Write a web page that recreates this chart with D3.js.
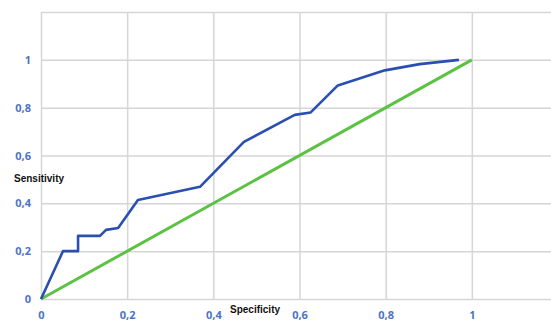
<!DOCTYPE html>
<html>
<head>
<meta charset="utf-8">
<script src="https://cdn.jsdelivr.net/npm/d3@7"></script>
<style>
  html, body { margin: 0; padding: 0; background: #fff; }
  svg { display: block; }
</style>
</head>
<body>
<div id="chart"></div>
<script>
// ROC curve: sensitivity against specificity, with the chance diagonal
const specificity = [0, 0.051, 0.086, 0.086, 0.137, 0.151, 0.179, 0.225, 0.369, 0.471, 0.589, 0.626, 0.689, 0.798, 0.879, 0.97];
const sensitivity = [0, 0.2, 0.2, 0.264, 0.264, 0.289, 0.297, 0.414, 0.469, 0.657, 0.77, 0.78, 0.893, 0.956, 0.982, 1.0];
const diagonalX = [0, 1];
const diagonalY = [0, 1];
const tickValues = [0, 0.2, 0.4, 0.6, 0.8, 1];
const tickLabels = ["0", "0,2", "0,4", "0,6", "0,8", "1"];

const W = 551, H = 324;
const margin = { left: 41, top: 12, right: -7, bottom: 25 };

const svg = d3.select("#chart").append("svg")
  .attr("width", W).attr("height", H);

const x = d3.scaleLinear().domain([0, 1.2]).range([margin.left, W - margin.right]);
const y = d3.scaleLinear().domain([0, 1.2]).range([H - margin.bottom, margin.top]);

const grid = "#d6d6d6";
const tickColor = "#4d74c4";

// grid lines
svg.append("g")
  .attr("transform", `translate(0,${y(0)})`)
  .call(d3.axisBottom(x).tickValues([0, 0.2, 0.4, 0.6, 0.8, 1, 1.2])
    .tickSize(-(y(0) - y(1.2))).tickFormat(""))
  .call(g => g.select(".domain").remove())
  .call(g => g.selectAll("line").attr("stroke", grid).attr("stroke-width", 1.5));

svg.append("g")
  .attr("transform", `translate(${x(0)},0)`)
  .call(d3.axisLeft(y).tickValues([0, 0.2, 0.4, 0.6, 0.8, 1, 1.2])
    .tickSize(-(x(1.2) - x(0))).tickFormat(""))
  .call(g => g.select(".domain").remove())
  .call(g => g.selectAll("line").attr("stroke", grid).attr("stroke-width", 1.5));

// tick labels
const fmt = v => tickLabels[tickValues.indexOf(v)];

svg.append("g")
  .attr("transform", `translate(0,${y(0)})`)
  .call(d3.axisBottom(x).tickValues(tickValues).tickSize(0).tickPadding(12).tickFormat(fmt))
  .call(g => g.select(".domain").remove())
  .call(g => g.selectAll("text")
    .attr("fill", tickColor)
    .attr("font-family", "Open Sans, sans-serif")
    .attr("font-weight", "bold")
    .attr("font-size", 11));

svg.append("g")
  .attr("transform", `translate(${x(0)},0)`)
  .call(d3.axisLeft(y).tickValues(tickValues).tickSize(0).tickPadding(10).tickFormat(fmt))
  .call(g => g.select(".domain").remove())
  .call(g => g.selectAll("text")
    .attr("fill", tickColor)
    .attr("font-family", "Open Sans, sans-serif")
    .attr("font-weight", "bold")
    .attr("font-size", 11));

// chance diagonal
const line = d3.line().x(d => x(d[0])).y(d => y(d[1]));

svg.append("path")
  .datum(d3.zip(diagonalX, diagonalY))
  .attr("d", line)
  .attr("fill", "none")
  .attr("stroke", "#5cc244")
  .attr("stroke-width", 3);

// ROC curve
svg.append("path")
  .datum(d3.zip(specificity, sensitivity))
  .attr("d", line)
  .attr("fill", "none")
  .attr("stroke", "#2a4fb2")
  .attr("stroke-width", 2.6)
  .attr("stroke-linejoin", "round");

// axis titles
svg.append("text")
  .attr("x", 14).attr("y", 182)
  .attr("font-family", "Liberation Sans, Arial, sans-serif")
  .attr("font-weight", "bold")
  .attr("font-size", 10)
  .attr("fill", "#111")
  .text("Sensitivity");

svg.append("text")
  .attr("x", 230).attr("y", 313)
  .attr("font-family", "Liberation Sans, Arial, sans-serif")
  .attr("font-weight", "bold")
  .attr("font-size", 10)
  .attr("fill", "#111")
  .text("Specificity");
</script>
</body>
</html>
